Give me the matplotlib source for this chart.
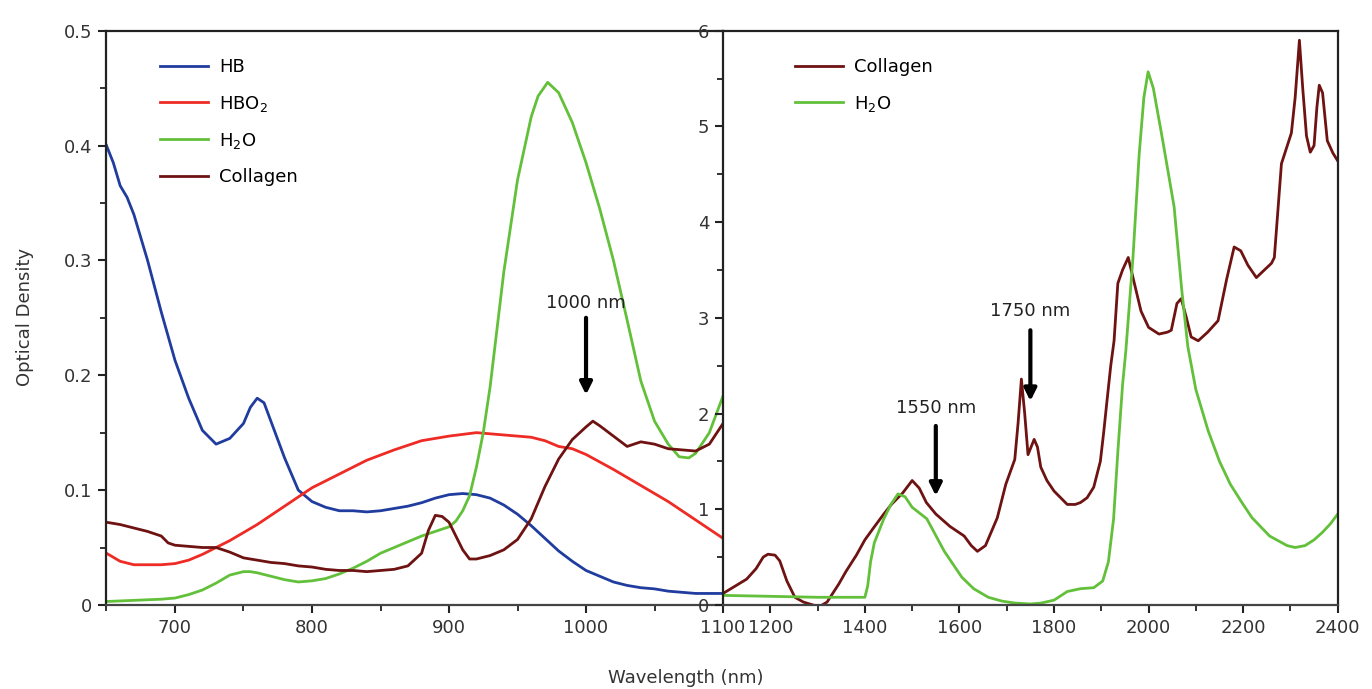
import matplotlib
matplotlib.use("Agg")
from matplotlib import pyplot as plt
from matplotlib.ticker import MultipleLocator, FixedLocator

# left panel: 650-1100 nm
wl_hb = [650, 655, 660, 665, 670, 680, 690, 700, 710, 720, 730, 740, 750, 755, 760, 765, 770, 780, 790, 800,
         810, 820, 830, 840, 850, 860, 870, 880, 890, 900, 910, 920, 930, 940, 950, 960, 970, 980, 990,
         1000, 1010, 1020, 1030, 1040, 1050, 1060, 1070, 1080, 1090, 1100]
od_hb = [0.400, 0.385, 0.365, 0.355, 0.340, 0.300, 0.255, 0.213, 0.180, 0.152, 0.140, 0.145, 0.158, 0.172, 0.180, 0.176, 0.160, 0.128, 0.100, 0.090,
         0.085, 0.082, 0.082, 0.081, 0.082, 0.084, 0.086, 0.089, 0.093, 0.096, 0.097, 0.096, 0.093, 0.087, 0.079, 0.069, 0.058, 0.047, 0.038,
         0.030, 0.025, 0.020, 0.017, 0.015, 0.014, 0.012, 0.011, 0.010, 0.010, 0.010]

wl_hbo2 = [650, 660, 670, 680, 690, 700, 710, 720, 730, 740, 750, 760, 770, 780, 790, 800, 820, 840, 860, 880,
           900, 920, 940, 960, 970, 980, 990, 1000, 1020, 1040, 1060, 1080, 1100]
od_hbo2 = [0.045, 0.038, 0.035, 0.035, 0.035, 0.036, 0.039, 0.044, 0.050, 0.056, 0.063, 0.070, 0.078, 0.086, 0.094, 0.102, 0.114, 0.126, 0.135, 0.143,
           0.147, 0.150, 0.148, 0.146, 0.143, 0.138, 0.136, 0.131, 0.118, 0.104, 0.090, 0.074, 0.058]

wl_h2o_l = [650, 670, 690, 700, 710, 720, 730, 740, 750, 755, 760, 770, 780, 790, 800, 810, 820, 830, 840, 850, 860, 870, 880,
            890, 900, 905, 910, 915, 920, 925, 930, 940, 950, 960, 965, 972, 980, 990, 1000, 1010, 1020, 1030,
            1040, 1050, 1060, 1068, 1075, 1080, 1090, 1100]
od_h2o_l = [0.003, 0.004, 0.005, 0.006, 0.009, 0.013, 0.019, 0.026, 0.029, 0.029, 0.028, 0.025, 0.022, 0.020, 0.021, 0.023, 0.027, 0.032, 0.038, 0.045, 0.050, 0.055, 0.060,
            0.064, 0.068, 0.073, 0.082, 0.095, 0.120, 0.150, 0.190, 0.290, 0.370, 0.425, 0.443, 0.455, 0.446, 0.420, 0.385, 0.345, 0.300, 0.248,
            0.195, 0.160, 0.140, 0.129, 0.128, 0.132, 0.150, 0.182]

wl_col_l = [650, 660, 670, 680, 690, 695, 700, 710, 720, 730, 740, 750, 760, 770, 780, 790, 800, 810, 820, 830, 840, 850,
            860, 870, 880, 885, 890, 895, 900, 905, 910, 915, 920, 930, 940, 950, 960, 970, 980, 990, 1000, 1005,
            1010, 1020, 1030, 1040, 1050, 1060, 1070, 1080, 1090, 1100]
od_col_l = [0.072, 0.070, 0.067, 0.064, 0.060, 0.054, 0.052, 0.051, 0.050, 0.050, 0.046, 0.041, 0.039, 0.037, 0.036, 0.034, 0.033, 0.031, 0.030, 0.030, 0.029, 0.030,
            0.031, 0.034, 0.045, 0.065, 0.078, 0.077, 0.072, 0.060, 0.048, 0.040, 0.040, 0.043, 0.048, 0.057, 0.075, 0.103, 0.127, 0.144, 0.155, 0.160,
            0.156, 0.147, 0.138, 0.142, 0.140, 0.136, 0.135, 0.134, 0.140, 0.158]

# right panel: 1100-2400 nm
wl_col_r = [1100, 1120, 1150, 1170, 1185, 1195, 1210, 1220, 1235, 1252, 1270, 1290, 1303, 1320, 1345, 1360, 1382, 1400,
            1419, 1440, 1456, 1480, 1500, 1515, 1530, 1550, 1580, 1610, 1625, 1638, 1655, 1680, 1698, 1717, 1724,
            1731, 1738, 1745, 1758, 1765, 1772, 1785, 1800, 1828, 1845, 1856, 1870, 1884, 1898, 1905, 1912, 1920,
            1927, 1935, 1945, 1957, 1968, 1984, 2000, 2022, 2040, 2048, 2060, 2069, 2080, 2090, 2105, 2125, 2147,
            2165, 2181, 2195, 2210, 2228, 2245, 2260, 2266, 2281, 2302, 2310, 2319, 2326, 2334, 2342, 2350, 2356,
            2361, 2368, 2378, 2390, 2400]
od_col_r = [0.12, 0.18, 0.27, 0.38, 0.50, 0.53, 0.52, 0.46, 0.25, 0.08, 0.03, 0.00, -0.02, 0.03, 0.22, 0.35, 0.52, 0.68,
            0.81, 0.95, 1.05, 1.17, 1.30, 1.22, 1.07, 0.95, 0.82, 0.72, 0.62, 0.56, 0.62, 0.91, 1.26, 1.52, 1.90,
            2.36, 2.00, 1.57, 1.73, 1.65, 1.44, 1.30, 1.19, 1.05, 1.05, 1.07, 1.12, 1.23, 1.50, 1.80, 2.13, 2.50,
            2.76, 3.36, 3.50, 3.63, 3.40, 3.07, 2.90, 2.83, 2.85, 2.87, 3.15, 3.20, 3.00, 2.80, 2.76, 2.85, 2.97,
            3.40, 3.74, 3.70, 3.55, 3.42, 3.50, 3.57, 3.63, 4.61, 4.93, 5.30, 5.90, 5.40, 4.90, 4.73, 4.80, 5.20,
            5.43, 5.35, 4.85, 4.72, 4.64]

wl_h2o_r = [1100, 1200, 1300, 1400, 1406, 1412, 1420, 1440, 1455, 1470, 1485, 1500, 1531, 1568, 1605, 1630, 1661,
            1690, 1717, 1750, 1773, 1800, 1828, 1856, 1884, 1903, 1915, 1926, 1935, 1945, 1952, 1967, 1980, 1990,
            1999, 2010, 2030, 2054, 2070, 2083, 2100, 2126, 2150, 2173, 2200, 2219, 2256, 2293, 2310, 2331, 2350,
            2368, 2385, 2400]
od_h2o_r = [0.10, 0.09, 0.08, 0.08, 0.20, 0.45, 0.65, 0.90, 1.05, 1.16, 1.13, 1.02, 0.90, 0.56, 0.29, 0.17, 0.08,
            0.04, 0.02, 0.01, 0.02, 0.05, 0.14, 0.17, 0.18, 0.25, 0.45, 0.90, 1.60, 2.30, 2.66, 3.63, 4.70, 5.30,
            5.57, 5.40, 4.85, 4.16, 3.30, 2.70, 2.25, 1.82, 1.50, 1.26, 1.05, 0.91, 0.72, 0.62, 0.60, 0.62, 0.68,
            0.76, 0.85, 0.95]

BLUE = "#1f3c9e"
RED = "#ee2b24"
GREEN = "#62c03a"
COLLAGEN = "#6e1212"

plt.rcParams["font.family"] = "DejaVu Sans"
plt.rcParams["mathtext.default"] = "regular"

fig = plt.figure(figsize=(13.72, 6.89), dpi=100)
ax1 = fig.add_axes([0.0776, 0.122, 0.527 - 0.0776, 0.9555 - 0.122])
ax2 = fig.add_axes([0.527, 0.122, 0.975 - 0.527, 0.9555 - 0.122])

lw = 2.0
ax1.plot(wl_hb, od_hb, color=BLUE, lw=lw, label="HB")
ax1.plot(wl_hbo2, od_hbo2, color=RED, lw=lw, label="HBO$_2$")
ax1.plot(wl_h2o_l, od_h2o_l, color=GREEN, lw=lw, label="H$_2$O")
ax1.plot(wl_col_l, od_col_l, color=COLLAGEN, lw=lw, label="Collagen")

ax2.plot(wl_col_r, od_col_r, color=COLLAGEN, lw=lw, label="Collagen")
ax2.plot(wl_h2o_r, od_h2o_r, color=GREEN, lw=lw, label="H$_2$O")

ax1.set_xlim(650, 1100)
ax1.set_ylim(0, 0.5)
ax1.xaxis.set_major_locator(FixedLocator([700, 800, 900, 1000, 1100]))
ax1.xaxis.set_minor_locator(MultipleLocator(50))
ax1.yaxis.set_minor_locator(MultipleLocator(0.05))
ax1.set_yticks([0, 0.1, 0.2, 0.3, 0.4, 0.5])
ax1.set_yticklabels(["0", "0.1", "0.2", "0.3", "0.4", "0.5"])
ax1.spines["right"].set_visible(False)

ax2.set_xlim(1100, 2400)
ax2.set_ylim(0, 6)
ax2.xaxis.set_major_locator(FixedLocator([1200, 1400, 1600, 1800, 2000, 2200, 2400]))
ax2.xaxis.set_minor_locator(FixedLocator([1300, 1500, 1700, 1900, 2100, 2300]))
ax2.yaxis.set_major_locator(MultipleLocator(1))
ax2.yaxis.set_minor_locator(MultipleLocator(0.5))

for ax in (ax1, ax2):
    ax.set_facecolor("none")
    for s in ax.spines.values():
        s.set_color("#222222")
        s.set_linewidth(1.6)
    ax.spines["bottom"].set_color("#444444")
    ax.tick_params(which="major", direction="out", length=6, width=1.5, labelsize=13, colors="#222222", pad=4)
    ax.tick_params(which="minor", direction="out", length=4, width=1.3, colors="#222222")
    for lab in ax.get_xticklabels() + ax.get_yticklabels():
        lab.set_color("#333333")

ax1.legend(loc="upper left", bbox_to_anchor=(0.06, 0.98), frameon=False, fontsize=13,
           handlelength=2.7, handletextpad=0.6, labelspacing=0.95)
ax2.legend(loc="upper left", bbox_to_anchor=(0.09, 0.98), frameon=False, fontsize=13,
           handlelength=2.7, handletextpad=0.6, labelspacing=0.95)

arrow = dict(arrowstyle="-|>", color="black", lw=3, mutation_scale=18, shrinkA=0, shrinkB=0)
ax1.annotate("", xy=(1000, 0.183), xytext=(1000, 0.25), arrowprops=arrow)
ax1.text(1000, 0.263, "1000 nm", ha="center", va="center", fontsize=13, color="#222222")
ax2.annotate("", xy=(1750, 2.13), xytext=(1750, 2.87), arrowprops=arrow)
ax2.text(1750, 3.07, "1750 nm", ha="center", va="center", fontsize=13, color="#222222")
ax2.annotate("", xy=(1550, 1.14), xytext=(1550, 1.87), arrowprops=arrow)
ax2.text(1550, 2.06, "1550 nm", ha="center", va="center", fontsize=13, color="#222222")

fig.text(0.5, 0.016, "Wavelength (nm)", ha="center", va="center", fontsize=13, color="#333333")
fig.text(0.018, 0.54, "Optical Density", ha="center", va="center", rotation=90, fontsize=13, color="#333333")

fig.savefig("out.png", dpi=100)
